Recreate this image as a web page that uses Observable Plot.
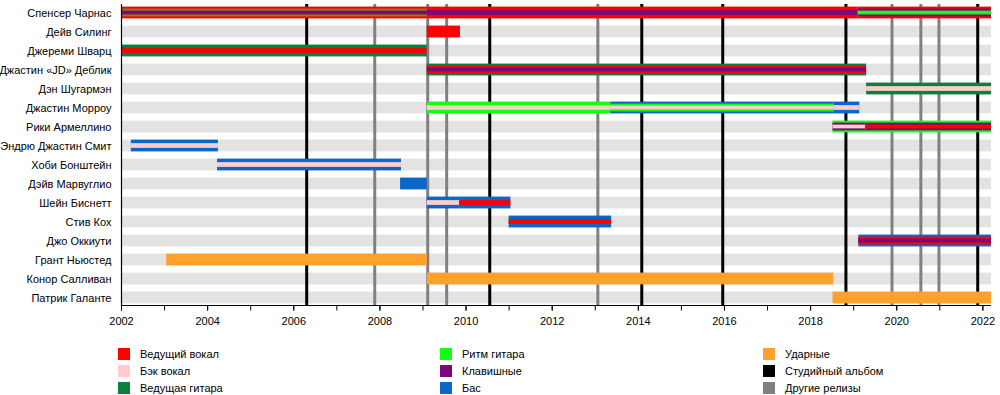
<!DOCTYPE html>
<html>
<head>
<meta charset="utf-8">
<script src="https://cdn.jsdelivr.net/npm/d3@7"></script>
<script src="https://cdn.jsdelivr.net/npm/@observablehq/plot@0.6"></script>
<style>
  html, body { margin: 0; padding: 0; background: #fff; }
  body { width: 1000px; height: 395px; position: relative; overflow: hidden; font-family: "Liberation Sans", Arial, sans-serif; }
  #chart { position: absolute; left: 0; top: 0; }
  .lg { position: absolute; font-size: 11px; color: #000; line-height: 12px; white-space: nowrap; }
  .sw { position: absolute; width: 12px; height: 12px; }
</style>
</head>
<body>
<div id="chart"></div>
<div id="legend"></div>
<script>
// ---------- DATA ----------
const members = [
  "Спенсер Чарнас", "Дейв Силинг", "Джереми Шварц", "Джастин «JD» Деблик",
  "Дэн Шугармэн", "Джастин Морроу", "Рики Армеллино", "Эндрю Джастин Смит",
  "Хоби Бонштейн", "Дэйв Марвуглио", "Шейн Биснетт", "Стив Кох",
  "Джо Оккиути", "Грант Ньюстед", "Конор Салливан", "Патрик Галанте"
];

const roles = ["lead", "backing", "leadgt", "rhythm", "keys", "bass", "drums"];
const roleLabels = ["Ведущий вокал", "Бэк вокал", "Ведущая гитара", "Ритм гитара", "Клавишные", "Бас", "Ударные"];

// [member, start, end, roles from outer to inner]
const segments = [
  ["Спенсер Чарнас", 2002.0, 2009.1, ["lead", "rhythm", "keys"]],
  ["Спенсер Чарнас", 2009.1, 2019.1, ["lead", "keys"]],
  ["Спенсер Чарнас", 2019.1, 2022.2, ["lead", "keys", "rhythm"]],
  ["Дейв Силинг", 2009.1, 2009.87, ["lead"]],
  ["Джереми Шварц", 2002.0, 2009.1, ["leadgt", "lead"]],
  ["Джастин «JD» Деблик", 2009.1, 2019.3, ["leadgt", "lead", "keys"]],
  ["Дэн Шугармэн", 2019.3, 2022.2, ["leadgt", "backing"]],
  ["Джастин Морроу", 2009.1, 2013.36, ["rhythm", "backing"]],
  ["Джастин Морроу", 2013.36, 2018.54, ["bass", "rhythm", "backing"]],
  ["Джастин Морроу", 2018.54, 2019.14, ["bass", "backing"]],
  ["Рики Армеллино", 2018.52, 2019.28, ["rhythm", "keys", "backing"]],
  ["Рики Армеллино", 2019.28, 2022.2, ["rhythm", "keys", "lead"]],
  ["Эндрю Джастин Смит", 2002.23, 2004.25, ["bass", "backing"]],
  ["Хоби Бонштейн", 2004.23, 2008.5, ["bass", "backing"]],
  ["Дэйв Марвуглио", 2008.48, 2009.1, ["bass"]],
  ["Шейн Биснетт", 2009.1, 2009.85, ["bass", "backing"]],
  ["Шейн Биснетт", 2009.85, 2011.04, ["bass", "lead"]],
  ["Стив Кох", 2011.0, 2013.38, ["bass", "lead"]],
  ["Джо Оккиути", 2019.12, 2022.2, ["bass", "lead", "keys"]],
  ["Грант Ньюстед", 2003.05, 2009.1, ["drums"]],
  ["Конор Салливан", 2009.1, 2018.54, ["drums"]],
  ["Патрик Галанте", 2018.52, 2022.2, ["drums"]]
];

const studioAlbums = [2006.30, 2010.55, 2014.08, 2015.96, 2018.82, 2021.88];
const otherReleases = [2007.88, 2009.11, 2009.55, 2013.06, 2019.89, 2020.56, 2020.98];
const releaseLabels = ["Студийный альбом", "Другие релизы"];

const xStart = 2002, xEnd = 2022.2;
const yearTicks = d3.range(2002, 2023);
const labelTicks = d3.range(2002, 2023, 2);

// ---------- STYLE ----------
const roleColors = {
  lead: "#ff0000", backing: "#ffcccc", leadgt: "#0b7f3c", rhythm: "#11ff11",
  keys: "#7a0a7a", bass: "#0a66c8", drums: "#ffa12c"
};
const studioColor = "#000000", otherColor = "#808080";
const thicknessByCount = {1: [12], 2: [12, 5], 3: [12, 8, 4]};

const W = 1000, H = 340;
const yRange = [1.4, 309.1];
const step = (yRange[1] - yRange[0]) / members.length;

// expand segments into layers
const layers = [];
for (const [member, start, end, rs] of segments) {
  const th = thicknessByCount[rs.length];
  rs.forEach((role, k) => {
    const blend = role === "rhythm" && k > 0 && rs[k - 1] === "lead";
    layers.push({member, start, end, role, t: th[k], opacity: blend ? 0.5 : 1});
  });
}
const thicknesses = [...new Set(layers.map(d => d.t))].sort((a, b) => b - a);

const inset = t => (step - t) / 2;

const marks = [
  Plot.barX(members, {
    x1: () => xStart, x2: () => xEnd, y: d => d,
    fill: "#e3e3e3", insetTop: inset(12), insetBottom: inset(12)
  }),
  Plot.ruleX(otherReleases, {stroke: otherColor, strokeWidth: 3}),
  Plot.ruleX(studioAlbums, {stroke: studioColor, strokeWidth: 3}),
  ...thicknesses.map(t => Plot.barX(layers.filter(d => d.t === t), {
    x1: "start", x2: "end", y: "member",
    fill: d => roleColors[d.role], fillOpacity: d => d.opacity,
    insetTop: inset(t), insetBottom: inset(t)
  })),
  Plot.ruleX([xStart], {stroke: "#000", strokeWidth: 1.2}),
  Plot.axisY({tickSize: 0, tickPadding: 10, fontSize: 11, fill: "#000"}),
  Plot.axisX({ticks: yearTicks, tickSize: 5, tickFormat: () => "", stroke: "#000"}),
  Plot.axisX({ticks: labelTicks, tickSize: 5, tickPadding: 6, tickFormat: "d", fontSize: 11, fill: "#000", stroke: "#000"})
];

const plot = Plot.plot({
  width: W, height: H,
  marginLeft: 121, marginRight: 9, marginTop: 4, marginBottom: H - 305.5,
  style: {fontFamily: "'Liberation Sans', Arial, sans-serif", fontSize: "11px", color: "#000", background: "#fff"},
  x: {domain: [xStart, xEnd], label: null},
  y: {type: "band", domain: members, range: yRange, padding: 0, label: null},
  marks
});
document.getElementById("chart").appendChild(plot);

// bottom axis line along the frame
const xs = plot.scale("x").range;
d3.select(plot).append("line")
  .attr("x1", xs[0]).attr("x2", xs[1])
  .attr("y1", 305.5).attr("y2", 305.5)
  .attr("stroke", "#000").attr("stroke-width", 1.2);

// ---------- LEGEND ----------
const legendItems = [
  ...roles.map((r, i) => ({label: roleLabels[i], color: roleColors[r]})),
  {label: releaseLabels[0], color: studioColor},
  {label: releaseLabels[1], color: otherColor}
];
const colX = [118, 440, 763];
const rowY = [348, 365, 382];
const legend = document.getElementById("legend");
legendItems.forEach((it, i) => {
  const c = Math.floor(i / 3), r = i % 3;
  const sw = document.createElement("div");
  sw.className = "sw";
  sw.style.left = colX[c] + "px"; sw.style.top = rowY[r] + "px";
  sw.style.background = it.color;
  legend.appendChild(sw);
  const tx = document.createElement("div");
  tx.className = "lg";
  tx.style.left = (colX[c] + 22) + "px"; tx.style.top = (rowY[r]) + "px";
  tx.textContent = it.label;
  legend.appendChild(tx);
});
</script>
</body>
</html>
